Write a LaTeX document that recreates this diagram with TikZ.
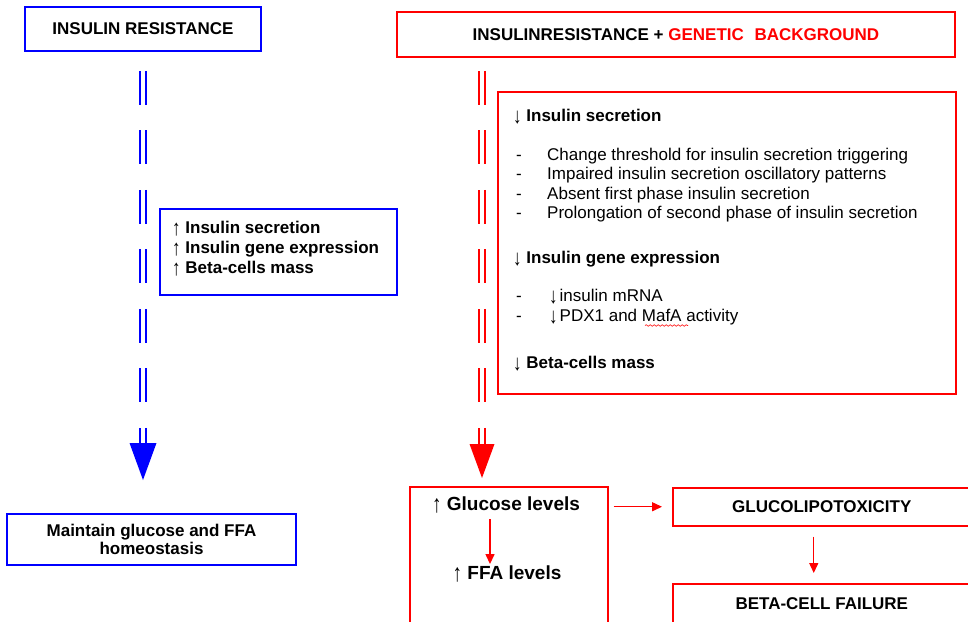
\documentclass[tikz,border=0pt]{standalone}
\usepackage{fontspec}
\usepackage{graphicx}
\setmainfont{Liberation Sans}
\usetikzlibrary{arrows.meta,decorations.pathmorphing}
\newcommand\myfs{\fontsize{17}{20}\selectfont}
\newcommand\myfsL{\fontsize{19}{22}\selectfont}
\newcommand\myup{{\mdseries\smash{\raisebox{-0.14em}{\scalebox{1}[1.3]{↑}}}}}
\newcommand\mydown{{\mdseries\smash{\raisebox{-0.14em}{\scalebox{1}[1.3]{↓}}}}}
\begin{document}
\begin{tikzpicture}[x=1pt,y=-1pt,
  bbox/.style={draw=blue, line width=1.7pt, inner sep=0pt, font=\bfseries\myfs},
  rbox/.style={draw=red, line width=1.5pt, inner sep=0pt, font=\bfseries\myfs},
  txt/.style={inner sep=0pt, font=\myfs},
  btxt/.style={inner sep=0pt, font=\bfseries\myfs},
  dline/.style={line width=2.1pt, double=white, double distance=3.8pt, dash pattern=on 34pt off 25.5pt},
  rarr/.style={draw=red, line width=1.4pt, -{Triangle[width=9pt,length=10pt]}}
]
\useasboundingbox (0,0) rectangle (968,621);
\clip (0,0) rectangle (968,621);
\fill[white] (0,0) rectangle (968,621);

% left column
\node[bbox, minimum width=236pt, minimum height=44pt] (ir) at (143,29) {INSULIN RESISTANCE};
\node[bbox, minimum width=237pt, minimum height=86pt] (bs) at (278.5,252) {};
\node[btxt, anchor=base west] (bs1) at (172,233) {\myup\ Insulin secretion};
\node[btxt, anchor=base west] (bs2) at (172,253) {\myup\ Insulin gene expression};
\node[btxt, anchor=base west] (bs3) at (172,273) {\myup\ Beta-cells mass};
\node[bbox, minimum width=289pt, minimum height=51pt, align=center, font=\bfseries\fontsize{17}{18.5}\selectfont] (bl) at (151.5,539.5) {Maintain glucose and FFA\\homeostasis};

\coordinate (bend) at (143,443);
\draw[blue, dline, shorten <=19pt] (ir.south) -- (bend);
\fill[blue] ([xshift=-13.5pt]bend) -- ([xshift=13.5pt]bend) -- ([yshift=-37pt]bend) -- cycle;

% right column
\node[rbox, minimum width=558pt, minimum height=45pt] (rt) at (676,34.5) {INSULINRESISTANCE + \textcolor{red}{GENETIC\hspace{0.35em} BACKGROUND}};
\node[rbox, minimum width=458pt, minimum height=302pt] (rc) at (727,243) {};

\node[btxt, anchor=base west] (h1) at (513,121) {\mydown\ Insulin secretion};
\node[txt, anchor=base west] (d1) at (516,160) {-};
\node[txt, anchor=base west] (t1) at (547,160) {Change threshold for insulin secretion triggering};
\node[txt, anchor=base west] (d2) at (516,179) {-};
\node[txt, anchor=base west] (t2) at (547,179) {Impaired insulin secretion oscillatory patterns};
\node[txt, anchor=base west] (d3) at (516,199) {-};
\node[txt, anchor=base west] (t3) at (547,199) {Absent first phase insulin secretion};
\node[txt, anchor=base west] (d4) at (516,218) {-};
\node[txt, anchor=base west] (t4) at (547,218) {Prolongation of second phase of insulin secretion};

\node[btxt, anchor=base west] (h2) at (513,263) {\mydown\ Insulin gene expression};
\node[txt, anchor=base west] (d5) at (516,301.5) {-};
\node[txt, anchor=base west] (t5) at (549,301.5) {\mydown\hspace{2pt}insulin mRNA};
\node[txt, anchor=base west] (d6) at (516,321.5) {-};
\node[txt, anchor=base west] (t6) at (549,321.5) {\mydown\hspace{2pt}PDX1 and MafA activity};
\draw[red, line width=0.6pt, decorate, decoration={snake, amplitude=0.8pt, segment length=4pt}] (645,325.5) -- (688,325.5);

\node[btxt, anchor=base west] (h3) at (513,368) {\mydown\ Beta-cells mass};

\coordinate (rend) at (482,444);
\draw[red, dline, shorten <=13pt] (rt.south -| rend) -- (rend);
\fill[red] ([xshift=-12.5pt]rend) -- ([xshift=12.5pt]rend) -- ([yshift=-34pt]rend) -- cycle;

% bottom right
\node[rbox, minimum width=198pt, minimum height=140pt, anchor=north west] (gb) at (409,486) {};
\node[inner sep=0pt, font=\bfseries\myfsL, anchor=base] (glu) at (506,510) {\myup\ Glucose levels};
\node[inner sep=0pt, font=\bfseries\myfsL, anchor=base] (ffa) at (507,579) {\myup\ FFA levels};
\draw[rarr, shorten <=9pt, shorten >=1pt] ([xshift=-16pt]glu.south) -- ([xshift=-17pt]ffa.north);

\node[rbox, minimum width=298pt, minimum height=38pt, anchor=north west] (gl) at (672,487) {GLUCOLIPOTOXICITY};
\node[rbox, minimum width=298pt, minimum height=40pt, anchor=north west] (bf) at (672,583) {BETA-CELL FAILURE};

\draw[rarr, shorten <=5pt, shorten >=10pt] (gl.west -| gb.east) -- (gl.west);
\draw[rarr, shorten <=10pt, shorten >=10pt] ([xshift=-8pt]gl.south) -- ([xshift=-8pt]bf.north);
\end{tikzpicture}
\end{document}
